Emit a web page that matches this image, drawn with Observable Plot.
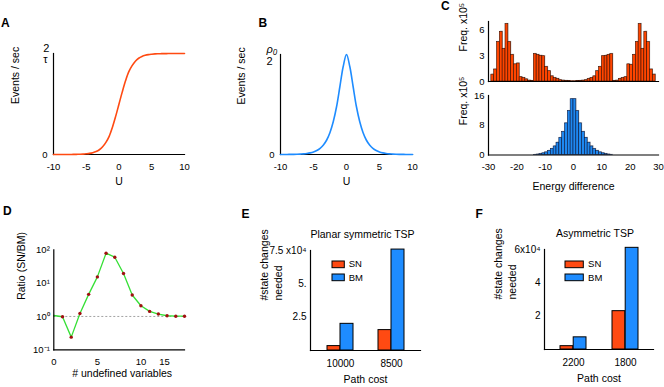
<!DOCTYPE html>
<html><head><meta charset="utf-8">
<script src="https://cdn.jsdelivr.net/npm/d3@7"></script>
<script src="https://cdn.jsdelivr.net/npm/@observablehq/plot@0.6"></script>
<style>
html,body{margin:0;padding:0;background:#fff;}
#fig{position:relative;width:664px;height:387px;overflow:hidden;background:#fff;}
#fig svg{position:absolute;overflow:visible;background:transparent;max-width:none;font-family:"Liberation Sans",Arial,sans-serif;}
#fig div{font-family:"Liberation Sans",Arial,sans-serif;}
.plab{position:absolute;font-weight:bold;font-size:12px;line-height:12px;color:#000;}
.lg{position:absolute;margin:0 !important;width:44px;min-height:0 !important;display:flex !important;flex-wrap:wrap !important;align-content:flex-start !important;font-size:9.5px !important;color:#000;}
.lg > span{height:13.3px;line-height:13.3px;margin-right:20px !important;display:inline-flex;align-items:center;white-space:nowrap;}
.lg > span svg{position:static !important;}
.lg rect{stroke:#000;stroke-width:1px;}
</style></head>
<body><div id="fig"></div>
<script>
// ---------- data ----------
const panelLetters = ["A","B","C","D","E","F"];

// A & B: rate curves vs U
const U = [-10,-9.5,-9,-8.5,-8,-7.5,-7,-6.5,-6,-5.5,-5,-4.5,-4,-3.5,-3,-2.5,-2,-1.5,-1,-0.5,0,0.5,1,1.5,2,2.5,3,3.5,4,4.5,5,5.5,6,6.5,7,7.5,8,8.5,9,9.5,10];
const rateA = [0.00005,0.0001,0.0001,0.0002,0.0003,0.0006,0.0009,0.0015,0.0025,0.004,0.007,0.011,0.018,0.029,0.047,0.076,0.12,0.18,0.27,0.38,0.5,0.62,0.73,0.82,0.88,0.924,0.953,0.971,0.982,0.989,0.993,0.996,0.9975,0.9985,0.999,0.9994,0.9997,0.9998,0.9999,0.9999,1];
const rateB = [0,0.0003,0.0005,0.001,0.0015,0.0025,0.004,0.006,0.01,0.016,0.025,0.04,0.062,0.095,0.145,0.22,0.33,0.48,0.68,0.88,1,0.88,0.68,0.48,0.33,0.22,0.145,0.095,0.062,0.04,0.025,0.016,0.01,0.006,0.004,0.0025,0.0015,0.001,0.0005,0.0003,0];
const xTicksAB = [-10,-5,0,5,10];
const fracA = ["2","τ"];
const fracB = ["ρ₀","2"];
const yLabelAB = "Events / sec";
const xLabelAB = "U";

// C: histograms of energy difference (bins of width 1, left edges)
const binsSN = d3.range(-29, 29);
const freqSN = [0.8,1.4,4.6,5.8,3.8,6.7,4.6,3.1,2.0,2.1,0.5,0.4,0.25,0.1,0.05,3.2,3.1,3.0,2.95,1.7,1.2,0.6,0.4,0.3,0.15,0.1,0.06,0.04,0.03,
                0.03,0.04,0.06,0.1,0.15,0.3,0.4,0.6,1.2,1.7,2.95,3.0,3.1,3.2,0.05,0.1,0.3,0.4,0.5,2.0,1.95,3.1,4.6,6.7,3.8,5.8,4.6,1.4,0.8];
const binsBM = d3.range(-14, 14);
const freqBM = [0.05,0.12,0.25,0.45,0.7,1.1,1.6,2.3,3.3,4.6,6.2,8.5,11.8,15,15,11.8,8.5,6.2,4.6,3.3,2.3,1.6,1.1,0.7,0.45,0.25,0.12,0.05];
const yTicksCtop = [0,3,6];
const yTicksCbot = [0,8,16];
const xTicksC = [-30,-20,-10,0,10,20,30];
const yLabelC = "Freq. x10⁵";
const xLabelC = "Energy difference";

// D: ratio SN/BM vs number of undefined variables
const nUndef = [0,1,2,3,4,5,6,7,8,9,10,11,12,13,14,15];
const ratioD = [1.07,0.98,0.24,1.23,4.6,15.4,79,60,19.5,4.4,2.1,1.42,1.18,1.05,1.02,1.02];
const xTickPosD = [0,5,10,12.7];
const xTickLabD = ["0","5","10","15"];
const yTicksD = [0.1,1,10,100];
const yTickLabD = ["10⁻¹","10⁰","10¹","10²"];
const yLabelD = "Ratio (SN/BM)";
const xLabelD = "# undefined variables";

// E & F: state changes needed
const series = ["SN","BM"];
const pathE = ["10000","8500"];
const snE = [3300,15300];
const bmE = [20000,75700];
const yTicksE = [25000,50000,75000];
const yTickLabE = ["2.5","5.","7.5 x10⁴"];
const titleE = "Planar symmetric TSP";

const pathF = ["2200","1800"];
const snF = [2000,23000];
const bmF = [7300,61000];
const yTicksF = [20000,40000,60000];
const yTickLabF = ["2","4","6x10⁴"];
const titleF = "Asymmetric TSP";
const yLabelEF = "#state changes\nneeded";
const xLabelEF = "Path cost";

// ---------- styles ----------
const ORANGE = "#ff4a12", BLUE = "#1e8cff";
const fig = document.getElementById("fig");
function place(el, left, top) {
  el.style.position = "absolute";
  el.style.left = left + "px";
  el.style.top = top + "px";
  fig.appendChild(el);
  return el;
}
const fmt = (ticks, labels) => d => labels[ticks.indexOf(d)];
const plain = d => String(d);

// ---------- A ----------
const dataA = U.map((u, i) => ({u, r: rateA[i]}));
const svgA = place(Plot.plot({
  width: 214, height: 200, marginLeft: 53, marginRight: 30, marginTop: 53, marginBottom: 46,
  x: {domain: [-10, 10]}, y: {domain: [0, 1]},
  marks: [
    Plot.axisX({ticks: xTicksAB, tickFormat: plain, tickSize: 0, tickPadding: 8.5, fontSize: 9.5, label: null}),
    Plot.axisY({ticks: [0], tickFormat: plain, tickSize: 0, tickPadding: 6, fontSize: 9.5, label: null}),
    Plot.text([yLabelAB], {text: d => d, frameAnchor: "left", rotate: -90, dx: -38, fontSize: 10.5}),
    Plot.text([xLabelAB], {text: d => d, frameAnchor: "bottom", dy: 30, fontSize: 10.5}),
    Plot.text([fracA[0]], {text: d => d, frameAnchor: "top-left", dx: -10.3, dy: -1.2, lineAnchor: "bottom", fontSize: 11, ariaLabel: "frac-num"}),
    Plot.text([fracA[1]], {text: d => d, frameAnchor: "top-left", dx: -10.3, dy: 1.5, lineAnchor: "top", fontSize: 11}),
    Plot.frame({anchor: "left", strokeWidth: 1.2}),
    Plot.frame({anchor: "bottom", strokeWidth: 1.2}),
    Plot.line(dataA, {x: "u", y: "r", stroke: ORANGE, strokeWidth: 1.6, curve: "catmull-rom"})
  ]
}), 0, 0);

// ---------- B ----------
const dataB = U.map((u, i) => ({u, r: rateB[i]}));
const svgB = place(Plot.plot({
  width: 210, height: 200, marginLeft: 60, marginRight: 18, marginTop: 54, marginBottom: 46,
  x: {domain: [-10, 10]}, y: {domain: [0, 1]},
  marks: [
    Plot.axisX({ticks: xTicksAB, tickFormat: plain, tickSize: 0, tickPadding: 8.5, fontSize: 9.5, label: null}),
    Plot.axisY({ticks: [0], tickFormat: plain, tickSize: 0, tickPadding: 6, fontSize: 9.5, label: null}),
    Plot.text([yLabelAB], {text: d => d, frameAnchor: "left", rotate: -90, dx: -38.7, fontSize: 10.5}),
    Plot.text([xLabelAB], {text: d => d, frameAnchor: "bottom", dy: 30, fontSize: 10.5}),
    Plot.text([fracB[0]], {text: d => d, frameAnchor: "top-left", dx: -14, dy: -2, lineAnchor: "bottom", fontSize: 11, fontStyle: "italic", ariaLabel: "frac-num"}),
    Plot.text([fracB[1]], {text: d => d, frameAnchor: "top-left", dx: -14, dy: 2.5, lineAnchor: "top", fontSize: 11}),
    Plot.frame({anchor: "left", strokeWidth: 1.2}),
    Plot.frame({anchor: "bottom", strokeWidth: 1.2}),
    Plot.line(dataB, {x: "u", y: "r", stroke: BLUE, strokeWidth: 1.6, curve: "catmull-rom"})
  ]
}), 220, 0);

[svgA, svgB].forEach(s => s.querySelectorAll('[aria-label="frac-num"] text').forEach(t => t.setAttribute("text-decoration", "underline")));

// ---------- C top ----------
const dataCtop = binsSN.map((k, i) => ({k, v: freqSN[i]}));
place(Plot.plot({
  width: 224, height: 90, marginLeft: 48, marginRight: 6, marginTop: 21, marginBottom: 9,
  x: {domain: [-30, 30], axis: null}, y: {domain: [0, 7]},
  marks: [
    Plot.axisY({ticks: yTicksCtop, tickFormat: plain, tickSize: 0, tickPadding: 4, fontSize: 9.5, label: null}),
    Plot.rectY(dataCtop, {x1: "k", x2: d => d.k + 1, y: "v", fill: "#c8c8c8", dx: 0.7, dy: -0.7}),
    Plot.rectY(dataCtop, {x1: "k", x2: d => d.k + 1, y: "v", fill: "#ff4500", stroke: "#3a1000", strokeWidth: 0.6}),
    Plot.text([yLabelC], {text: d => d, frameAnchor: "left", rotate: -90, dx: -25.3, fontSize: 10.5}),
    Plot.frame({anchor: "left", strokeWidth: 1.2}),
    Plot.frame({anchor: "bottom", strokeWidth: 1.2})
  ]
}), 440, 0);

// ---------- C bottom ----------
const dataCbot = binsBM.map((k, i) => ({k, v: freqBM[i]}));
place(Plot.plot({
  width: 224, height: 115, marginLeft: 48, marginRight: 6, marginTop: 10, marginBottom: 45.5,
  x: {domain: [-30, 30]}, y: {domain: [0, 16]},
  marks: [
    Plot.axisX({ticks: xTicksC, tickFormat: plain, tickSize: 0, tickPadding: 8, fontSize: 9.5, label: null}),
    Plot.axisY({ticks: yTicksCbot, tickFormat: plain, tickSize: 0, tickPadding: 4, fontSize: 9.5, label: null}),
    Plot.rectY(dataCbot, {x1: "k", x2: d => d.k + 1, y: "v", fill: "#c8c8c8", dx: 0.7, dy: -0.7}),
    Plot.rectY(dataCbot, {x1: "k", x2: d => d.k + 1, y: "v", fill: "#1e88f0", stroke: "#0a1a40", strokeWidth: 0.6}),
    Plot.text([yLabelC], {text: d => d, frameAnchor: "left", rotate: -90, dx: -25.3, fontSize: 10.5}),
    Plot.text([xLabelC], {text: d => d, frameAnchor: "bottom", dy: 34.5, fontSize: 10.5}),
    Plot.frame({anchor: "left", strokeWidth: 1.2}),
    Plot.frame({anchor: "bottom", strokeWidth: 1.2})
  ]
}), 440, 85);

// ---------- D ----------
const dataD = nUndef.map((n, i) => ({n, r: ratioD[i]}));
place(Plot.plot({
  width: 214, height: 187, marginLeft: 53.3, marginRight: 30, marginTop: 49.3, marginBottom: 37.7,
  x: {domain: [0, 15]}, y: {type: "log", domain: [0.1, 100]},
  marks: [
    Plot.axisX({ticks: xTickPosD, tickFormat: fmt(xTickPosD, xTickLabD), tickSize: 0, tickPadding: 8.5, fontSize: 9.5, label: null}),
    Plot.axisY({ticks: yTicksD, tickFormat: fmt(yTicksD, yTickLabD), tickSize: 0, tickPadding: 4, fontSize: 9.5, label: null}),
    Plot.ruleY([1], {stroke: "#8a8a8a", strokeWidth: 0.8, strokeDasharray: "2,2"}),
    Plot.line(dataD, {x: "n", y: "r", stroke: "#35e035", strokeWidth: 1.3}),
    Plot.dot(dataD, {filter: d => d.n > 0, x: "n", y: "r", r: 1.7, fill: "#a01010"}),
    Plot.text([yLabelD], {text: d => d, frameAnchor: "left", rotate: -90, dx: -32.5, fontSize: 10.5}),
    Plot.text([xLabelD], {text: d => d, frameAnchor: "bottom", dx: 3, dy: 27, fontSize: 10.5}),
    Plot.frame({anchor: "left", strokeWidth: 1.2}),
    Plot.frame({anchor: "bottom", strokeWidth: 1.2})
  ]
}), 0, 200);

// ---------- E & F ----------
function tspPanel(paths, sn, bm, yTicks, yLabs, title, dims, left, top, lgClass, lgLeft, swW) {
  const data = paths.map((p, i) => ({p, SN: sn[i], BM: bm[i]}));
  const svg = Plot.plot({
    width: dims.width, height: 187, marginLeft: dims.ml, marginRight: dims.mr, marginTop: dims.mt, marginBottom: dims.mb,
    x: {domain: paths, paddingInner: 0.5, paddingOuter: dims.po},
    y: {domain: [0, yTicks[yTicks.length - 1]]},
    marks: [
      Plot.axisX({tickSize: 0, tickPadding: 9.5, fontSize: 10, label: null}),
      Plot.axisY({ticks: yTicks, tickFormat: fmt(yTicks, yLabs), tickSize: 0, tickPadding: 4, fontSize: 10, label: null}),
      Plot.barY(data, {x: "p", y: "SN", insetRight: dims.half, fill: ORANGE, stroke: "#000", strokeWidth: 1}),
      Plot.barY(data, {x: "p", y: "BM", insetLeft: dims.half, fill: BLUE, stroke: "#000", strokeWidth: 1}),
      Plot.text([title], {text: d => d, frameAnchor: "top", dx: dims.tdx, dy: -19.5, fontSize: 10.5}),
      Plot.text([yLabelEF], {text: d => d, frameAnchor: "left", rotate: -90, dx: -40, lineHeight: 1.35, fontSize: 10.5}),
      Plot.text([xLabelEF], {text: d => d, frameAnchor: "bottom", dy: 32.5, fontSize: 10.5}),
      Plot.frame({anchor: "left", strokeWidth: 1.2}),
      Plot.frame({anchor: "bottom", strokeWidth: 1.2})
    ]
  });
  place(svg, left, top);
  const lg = Plot.legend({color: {type: "categorical", domain: series, range: [ORANGE, BLUE]}, swatchWidth: swW, swatchHeight: 6.7, className: lgClass});
  lg.classList.add("lg");
  place(lg, lgLeft, 257.4);
}
tspPanel(pathE, snE, bmE, yTicksE, yTickLabE, titleE, {width: 224, ml: 90, mr: 24, mt: 50, mb: 37, po: 0.32, half: 13, tdx: -3}, 220, 200, "lgE", 331.7, 12.3);
tspPanel(pathF, snF, bmF, yTicksF, yTickLabF, titleF, {width: 224, ml: 104, mr: 11, mt: 49, mb: 38, po: 0.29, half: 13.2, tdx: -4}, 440, 200, "lgF", 565, 18.3);

// ---------- panel letters ----------
const letterPos = [[1, 16.5], [258.5, 17], [441, 0], [3, 204.8], [241.5, 208], [475.5, 208]];
panelLetters.forEach((L, i) => {
  const d = document.createElement("div");
  d.className = "plab";
  d.textContent = L;
  place(d, letterPos[i][0], letterPos[i][1]);
});
</script></body></html>
